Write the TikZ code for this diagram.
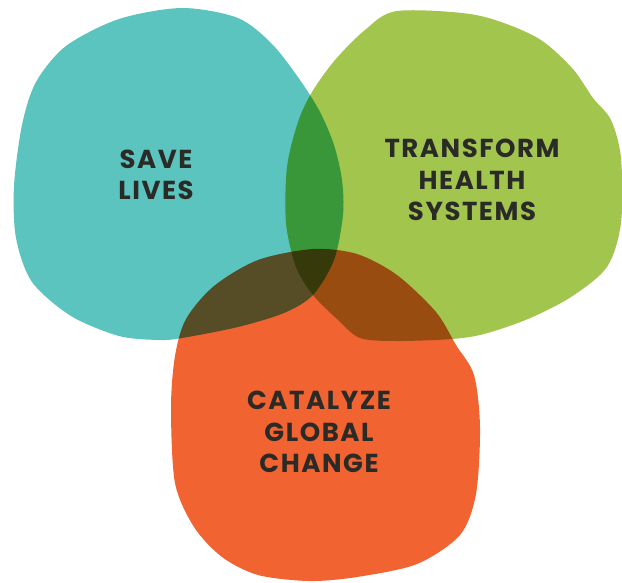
\documentclass[tikz,border=0pt]{standalone}
\usepackage{fontspec}
\setmainfont{Poppins}[LetterSpace=6]
\usepackage{xcolor}
\definecolor{lifeteal}{HTML}{5BC4BF}
\definecolor{healthgreen}{HTML}{A2C54E}
\definecolor{changeorange}{HTML}{F26332}
\definecolor{labelgray}{HTML}{2A2A26}

\begin{document}
\begin{tikzpicture}[x=1pt,y=-1pt,
    blob/.style={fill=#1,draw=none},
    goal/.style={align=center,text=labelgray,font=\fontsize{26}{31.5}\selectfont\bfseries}]
            \useasboundingbox (0,0) rectangle (622,582);

            % three blobs, overlaps darken by multiply
            \begin{scope}[blend group=multiply]
            \fill[blob=lifeteal] plot[smooth cycle] coordinates {
                (182,8) (238,18) (272,44) (300,80) (320,112) (334,145) (342,180)
                (343,215) (334,260) (313,295) (284,313) (238,327) (182,338)
                (159,340) (119,336) (71,316) (32,282) (16,238) (14,186)
                (22,125) (36,82) (66,46) (119,19)};
            \fill[blob=healthgreen] plot[smooth cycle] coordinates {
                (397,11) (476,15) (536,37) (572,68) (593,98) (611,120) (621,158)
                (621,223) (607,267) (571,297) (528,319) (484,334) (452,339)
                (397,341) (360,338) (337,319) (313,295) (296,267) (286,223)
                (287,167) (298,122) (312,92) (335,60) (365,30)};
            \fill[blob=changeorange] plot[smooth cycle] coordinates {
                (313,249) (357,254) (397,275) (436,312) (456,345) (474,375)
                (480,427) (476,494) (460,535) (417,564) (357,577) (309,581)
                (258,575) (222,557) (194,527) (175,483) (171,408) (175,356)
                (186,319) (214,286) (258,260)};
            \end{scope}

            \node[goal] (save) at (156,175) {SAVE\\LIVES};
            \node[goal] (transform) at (472,180) {TRANSFORM\\HEALTH\\SYSTEMS};
            \node[goal] (catalyze) at (319,432) {CATALYZE\\GLOBAL\\CHANGE};
\end{tikzpicture}
\end{document}
